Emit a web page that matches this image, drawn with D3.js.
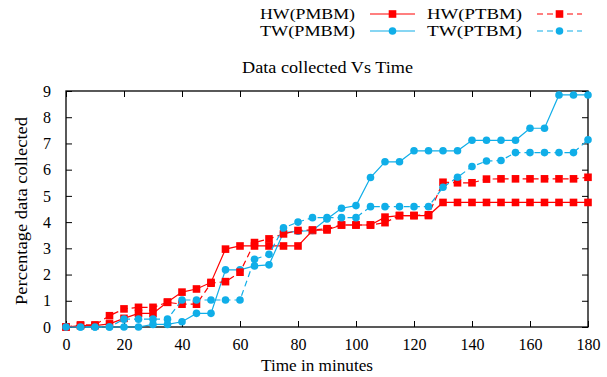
<!DOCTYPE html>
<html><head><meta charset="utf-8">
<script src="https://cdn.jsdelivr.net/npm/d3@7"></script>
<style>
html,body{margin:0;padding:0;background:#fff;}
text{font-family:"Liberation Serif","DejaVu Serif",serif;fill:#000;}
</style></head>
<body>
<svg id="chart" width="607" height="377"></svg>
<script>
const times = d3.range(0, 181, 5);
const hwPMBM = [0,0.05,0.05,0.12,0.33,0.52,0.52,0.95,1.33,1.45,1.7,2.97,3.09,3.09,3.09,3.09,3.09,3.68,3.7,3.89,3.89,3.89,4.19,4.25,4.25,4.25,4.75,4.75,4.75,4.75,4.75,4.75,4.75,4.75,4.75,4.75,4.75];
const twPMBM = [0,0,0,0,0,0,0.1,0.1,0.2,0.52,0.52,2.18,2.18,2.33,2.37,3.6,3.65,3.68,4.12,4.53,4.63,5.7,6.3,6.3,6.72,6.72,6.72,6.72,7.12,7.12,7.12,7.12,7.58,7.58,8.85,8.85,8.85];
const hwPTBM = [0,0.08,0.08,0.43,0.69,0.75,0.75,0.94,0.87,0.87,1.67,1.73,2.09,3.22,3.36,3.55,3.68,3.7,3.75,3.89,3.89,3.89,3.98,4.25,4.25,4.28,5.52,5.5,5.5,5.64,5.65,5.65,5.65,5.65,5.65,5.65,5.71];
const twPTBM = [0,0,0,0,0.3,0.3,0.3,0.3,1.03,1.03,1.03,1.03,1.03,2.58,2.77,3.78,4.0,4.17,4.17,4.17,4.17,4.59,4.59,4.59,4.59,4.59,5.33,5.71,6.12,6.33,6.35,6.65,6.65,6.65,6.65,6.65,7.14];
const xTicks = d3.range(0, 181, 20);
const yTicks = d3.range(0, 10, 1);
const seriesNames = ["HW(PMBM)","TW(PMBM)","HW(PTBM)","TW(PTBM)"];

const RED = "#ff0000", BLUE = "#10aee8";
const series = [
  {name: seriesNames[0], vals: hwPMBM, color: RED, dash: null, marker: "square"},
  {name: seriesNames[1], vals: twPMBM, color: BLUE, dash: null, marker: "circle"},
  {name: seriesNames[2], vals: hwPTBM, color: RED, dash: "6,4", marker: "square"},
  {name: seriesNames[3], vals: twPTBM, color: BLUE, dash: "6,4", marker: "circle"}
];

const svg = d3.select("#chart");
const L = 66, R = 588, T = 91, B = 327;
const x = d3.scaleLinear().domain([0,180]).range([L,R]);
const y = d3.scaleLinear().domain([0,9]).range([B,T]);

const tickLen = 6;
const gB = svg.append("g").attr("transform",`translate(0,${B})`)
  .call(d3.axisBottom(x).tickValues(xTicks).tickSizeInner(-tickLen).tickSizeOuter(0).tickPadding(12));
const gT = svg.append("g").attr("transform",`translate(0,${T})`)
  .call(d3.axisTop(x).tickValues(xTicks).tickSizeInner(-tickLen).tickSizeOuter(0).tickFormat(""));
const gL = svg.append("g").attr("transform",`translate(${L},0)`)
  .call(d3.axisLeft(y).tickValues(yTicks).tickSizeInner(-tickLen).tickSizeOuter(0).tickPadding(15));
const gR = svg.append("g").attr("transform",`translate(${R},0)`)
  .call(d3.axisRight(y).tickValues(yTicks).tickSizeInner(-tickLen).tickSizeOuter(0).tickFormat(""));
[gB,gT,gL,gR].forEach(g=>{
  g.select(".domain").remove();
  g.selectAll(".tick line").attr("stroke","#000").attr("stroke-width",1);
  g.selectAll(".tick text").style("font-family","'Liberation Serif',serif").style("font-size","16px").attr("fill","#000");
});
svg.append("rect").attr("x",L).attr("y",T).attr("width",R-L).attr("height",B-T)
  .attr("fill","none").attr("stroke","#000").attr("stroke-width",1.3);

const line = d3.line().x((d,i)=>x(times[i])).y(d=>y(d));
function drawMarker(g, cx, cy, s){
  if (s.marker === "square") {
    g.append("rect").attr("x",cx-3.8).attr("y",cy-3.8).attr("width",7.6).attr("height",7.6).attr("fill",s.color);
  } else {
    g.append("circle").attr("cx",cx).attr("cy",cy).attr("r",3.8).attr("fill",s.color);
  }
}
series.forEach(s=>{
  const g = svg.append("g");
  g.append("path").datum(s.vals).attr("d",line).attr("fill","none")
    .attr("stroke",s.color).attr("stroke-width",1.2).attr("stroke-dasharray",s.dash);
  s.vals.forEach((v,i)=>drawMarker(g, x(times[i]), y(v), s));
});

const legendPos = [
  {tx:260, ly:14, lx1:370, lx2:415},
  {tx:260, ly:31, lx1:370, lx2:415},
  {tx:427, ly:14, lx1:537, lx2:582},
  {tx:427, ly:31, lx1:537, lx2:582}
];
series.forEach((s,i)=>{
  const p = legendPos[i];
  const g = svg.append("g");
  g.append("text").attr("x",p.tx).attr("y",p.ly+5).attr("text-anchor","start")
    .attr("textLength",95).attr("lengthAdjust","spacingAndGlyphs")
    .style("font-size","14.5px").text(s.name);
  g.append("line").attr("x1",p.lx1).attr("x2",p.lx2).attr("y1",p.ly).attr("y2",p.ly)
    .attr("stroke",s.color).attr("stroke-width",1.2).attr("stroke-dasharray",s.dash);
  drawMarker(g, (p.lx1+p.lx2)/2, p.ly, s);
});

svg.append("text").attr("x",242).attr("y",73).attr("text-anchor","start")
  .attr("textLength",171).attr("lengthAdjust","spacingAndGlyphs")
  .style("font-size","16.5px").text("Data collected Vs Time");
svg.append("text").attr("x",261).attr("y",371).attr("text-anchor","start")
  .attr("textLength",112).attr("lengthAdjust","spacingAndGlyphs")
  .style("font-size","16.5px").text("Time in minutes");
svg.append("text").attr("transform","translate(27,305) rotate(-90)").attr("text-anchor","start")
  .attr("textLength",188).attr("lengthAdjust","spacingAndGlyphs")
  .style("font-size","16.5px").text("Percentage data collected");
</script>
</body></html>
